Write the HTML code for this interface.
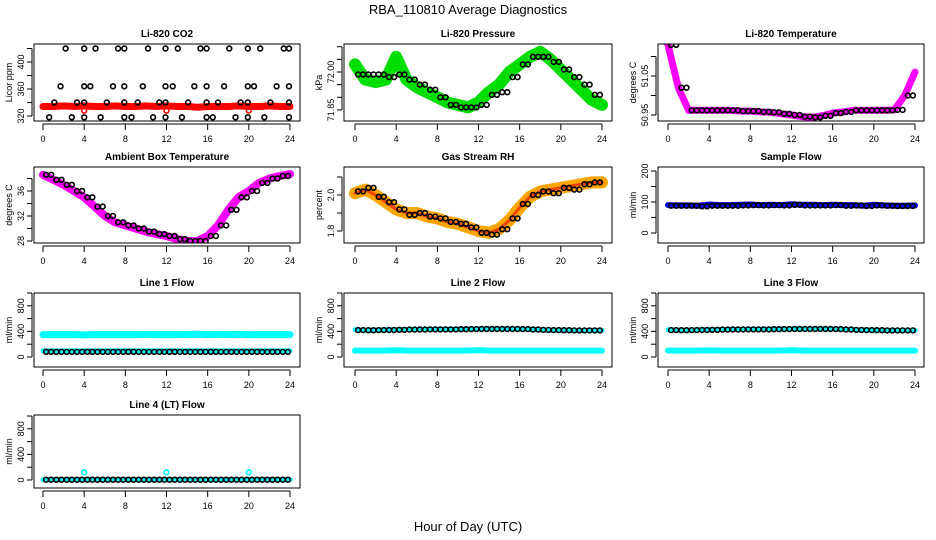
<!DOCTYPE html>
<html><head><meta charset="utf-8">
<style>
body{margin:0;background:#fff;}
svg{display:block;font-family:"Liberation Sans",sans-serif;}
</style></head>
<body>
<svg id="chart" width="936" height="540" viewBox="0 0 936 540" xmlns="http://www.w3.org/2000/svg">
<rect width="936" height="540" fill="#fff"/>
<text x="468" y="14" font-size="13" text-anchor="middle">RBA_110810  Average Diagnostics</text>
<text x="468" y="531" font-size="13" text-anchor="middle">Hour of Day (UTC)</text>
</svg>
<script>
const hours = [0,1,2,3,4,5,6,7,8,9,10,11,12,13,14,15,16,17,18,19,20,21,22,23,24];
const xTicks = [0,4,8,12,16,20,24];

const co2Red = [334,334,335,334,335,334,334,335,334,334,335,334,335,334,334,333,334,334,334,335,334,334,335,334,334];
const co2BlackH = [2.2,4,5.1,7.3,7.9,10.2,11.9,13.1,15.3,15.9,18.1,19.9,21.1,23.4,23.9,1.7,4,4.6,6.8,7.9,9.7,11.9,12.6,14.7,15.9,17.6,19.9,20.5,22.7,23.9,1.1,3.3,4,6.2,7.9,9.2,11.3,11.9,14.1,15.9,17,19.2,19.9,22.1,23.9,0.6,2.8,4,5.6,7.9,8.6,10.7,11.9,13.5,15.9,16.5,18.7,19.9,21.5,23.9];
const co2BlackV = [420,420,420,420,420,420,420,420,420,420,420,420,420,420,420,364,364,364,364,364,364,364,364,364,364,364,364,364,364,364,340,340,340,340,340,340,340,340,340,340,340,340,340,340,340,318,318,318,318,318,318,318,318,318,318,318,318,318,318,318];

const pressGreen = [72.03,71.97,71.96,71.97,72.06,71.97,71.94,71.92,71.9,71.88,71.87,71.86,71.88,71.92,71.95,72.0,72.03,72.06,72.08,72.05,72.01,71.97,71.93,71.89,71.87];
const pressBlack = [71.99,71.99,71.99,71.98,71.99,71.97,71.95,71.93,71.9,71.87,71.86,71.86,71.87,71.91,71.92,71.98,72.03,72.06,72.06,72.04,72.01,71.98,71.95,71.91,71.89];

const tempMag = [51.13,51.02,50.962,50.962,50.962,50.962,50.962,50.96,50.96,50.958,50.957,50.953,50.95,50.946,50.944,50.948,50.955,50.958,50.962,50.962,50.962,50.962,50.963,51.0,51.06];

const ambient = [38.6,37.8,37.0,36.0,35.0,33.5,32.0,31.0,30.5,30.0,29.5,29.1,28.8,28.3,28.0,28.0,28.8,30.5,33.0,35.0,36.0,37.3,38.0,38.4,38.7];

const rhOrange = [2.01,2.03,2.0,1.96,1.92,1.9,1.9,1.88,1.87,1.85,1.84,1.82,1.8,1.79,1.81,1.86,1.93,1.99,2.02,2.03,2.04,2.05,2.06,2.07,2.07];
const rhBlack = [2.02,2.04,1.99,1.96,1.92,1.89,1.9,1.88,1.87,1.85,1.84,1.82,1.79,1.78,1.81,1.87,1.95,2.0,2.02,2.01,2.04,2.03,2.06,2.07,2.06];

const sampleBlue = [90,89,89,88,92,90,90,91,92,90,91,90,93,91,91,90,91,90,90,88,91,89,88,88,89];
const sampleBlack = [88,88,88,86,88,88,88,89,90,89,90,89,91,89,89,89,90,88,89,87,89,88,87,87,88];

const line1CyanHi = [350,350,350,350,345,350,350,350,350,350,352,350,350,350,352,355,350,352,350,355,348,350,350,350,350];
const line1CyanLo = [95,95,95,95,95,95,95,95,95,95,95,95,95,95,95,95,95,95,95,95,95,95,95,95,95];
const line1Black = [82,80,80,80,82,80,80,80,82,80,80,80,82,80,80,80,82,80,80,80,82,80,80,80,80];

const line2Cyan = [425,420,420,425,425,430,432,435,435,435,438,438,440,440,440,440,438,432,425,420,418,415,415,415,415];
const line2CyanLo = [100,100,100,100,105,100,100,100,100,100,100,100,108,100,100,100,100,100,100,100,100,100,100,100,100];
const line2Black = [420,418,420,422,425,428,430,432,432,432,435,436,438,438,438,438,436,430,424,420,418,415,415,415,415];

const line3Cyan = [425,420,420,425,425,430,432,435,435,435,438,438,440,440,440,440,438,432,425,420,418,415,415,415,415];
const line3CyanLo = [100,100,100,100,102,100,100,100,100,100,100,100,105,100,100,100,100,100,100,100,100,100,100,100,100];
const line3Black = [420,418,420,422,425,428,430,432,432,432,435,436,438,438,438,438,436,430,424,420,418,415,415,415,415];

const line4Cyan = [5,5,5,5,5,5,5,5,5,5,5,5,5,5,5,5,5,5,5,5,5,5,5,5,5];
const line4SpikeH = [4,12,20];
const line4SpikeV = [120,120,120];
const line4Black = [5,5,5,5,5,5,5,5,5,5,5,5,5,5,5,5,5,5,5,5,5,5,5,5,5];

const NS = "http://www.w3.org/2000/svg";
const svg = document.getElementById('chart');
const cols = [{l:34,x0:43,x24:290,r:300},{l:344,x0:355,x24:602,r:612},{l:658,x0:668,x24:915,r:924}];
const rows = [{t:44,b:121},{t:167,b:243},{t:293,b:367},{t:415,b:488}];

function mk(tag, attrs, parent){
  const e = document.createElementNS(NS, tag);
  for (const k in attrs) e.setAttribute(k, attrs[k]);
  (parent||svg).appendChild(e);
  return e;
}

const panels = [
 {name:'li820-co2',c:0,r:0,title:'Li-820 CO2',ylab:'Licor ppm',v0:320,y0:116,ppu:54/80,ticks:[320,340,360,380,400,420],labels:[320,360,400],lab:v=>String(v),
  series:[{type:'band',x:hours,y:co2Red,color:'#ff0000',w:7},{type:'pts',x:[4,12,20],y:[328,328,328],color:'#ff0000'},{type:'pts',x:co2BlackH,y:co2BlackV,color:'#000'}]},
 {name:'li820-pressure',c:1,r:0,title:'Li-820 Pressure',ylab:'kPa',v0:72.0,y0:72,ppu:253,ticks:[71.85,71.9,71.95,72.0,72.05,72.1],labels:[71.85,72.0],lab:v=>v.toFixed(2),
  series:[{type:'band',x:hours,y:pressGreen,color:'#00dd00',w:12},{type:'pts',x:hours,y:pressBlack,color:'#000',off:0.3}]},
 {name:'li820-temperature',c:2,r:0,title:'Li-820 Temperature',ylab:'degrees C',v0:50.95,y0:115,ppu:390,ticks:[50.95,51.0,51.05,51.1],labels:[50.95,51.05],lab:v=>v.toFixed(2),
  series:[{type:'band',x:hours,y:tempMag,color:'#ff00ff',w:7},{type:'pts',x:hours,y:tempMag,color:'#000',off:0.3}]},
 {name:'ambient-box-temperature',c:0,r:1,title:'Ambient Box Temperature',ylab:'degrees C',v0:28,y0:241,ppu:6.25,ticks:[28,30,32,34,36,38],labels:[28,32,36],lab:v=>String(v),
  series:[{type:'band',x:hours,y:ambient,color:'#ff00ff',w:8},{type:'pts',x:hours,y:ambient,color:'#000',off:0.3}]},
 {name:'gas-stream-rh',c:1,r:1,title:'Gas Stream RH',ylab:'percent',v0:2.0,y0:195,ppu:180,ticks:[1.8,1.9,2.0,2.1],labels:[1.8,2.0],lab:v=>v.toFixed(1),
  series:[{type:'band',x:hours,y:rhOrange,color:'#ffa500',w:12},{type:'band',x:hours,y:rhOrange,color:'#ee4400',w:3},{type:'pts',x:hours,y:rhBlack,color:'#000',off:0.3}]},
 {name:'sample-flow',c:2,r:1,title:'Sample Flow',ylab:'ml/min',v0:0,y0:233,ppu:0.31,ticks:[0,50,100,150,200],labels:[0,100,200],lab:v=>String(v),
  series:[{type:'band',x:hours,y:sampleBlue,color:'#0000ff',w:6},{type:'pts',x:hours,y:sampleBlack,color:'#000',off:0.3}]},
 {name:'line1-flow',c:0,r:2,title:'Line 1 Flow',ylab:'ml/min',v0:0,y0:357,ppu:0.064,ticks:[0,200,400,600,800,1000],labels:[0,400,800],lab:v=>String(v),
  series:[{type:'band',x:hours,y:line1CyanHi,color:'#00ffff',w:7},{type:'band',x:hours,y:line1CyanLo,color:'#00ffff',w:5},{type:'pts',x:hours,y:line1Black,color:'#000',off:0.3}]},
 {name:'line2-flow',c:1,r:2,title:'Line 2 Flow',ylab:'ml/min',v0:0,y0:357,ppu:0.064,ticks:[0,200,400,600,800,1000],labels:[0,400,800],lab:v=>String(v),
  series:[{type:'band',x:hours,y:line2Cyan,color:'#00ffff',w:5},{type:'band',x:hours,y:line2CyanLo,color:'#00ffff',w:6},{type:'pts',x:hours,y:line2Black,color:'#000',off:0.3}]},
 {name:'line3-flow',c:2,r:2,title:'Line 3 Flow',ylab:'ml/min',v0:0,y0:357,ppu:0.064,ticks:[0,200,400,600,800,1000],labels:[0,400,800],lab:v=>String(v),
  series:[{type:'band',x:hours,y:line3Cyan,color:'#00ffff',w:5},{type:'band',x:hours,y:line3CyanLo,color:'#00ffff',w:6},{type:'pts',x:hours,y:line3Black,color:'#000',off:0.3}]},
 {name:'line4-lt-flow',c:0,r:3,title:'Line 4 (LT) Flow',ylab:'ml/min',v0:0,y0:480,ppu:0.064,ticks:[0,200,400,600,800,1000],labels:[0,400,800],lab:v=>String(v),
  series:[{type:'band',x:hours,y:line4Cyan,color:'#00ffff',w:5},{type:'pts',x:line4SpikeH,y:line4SpikeV,color:'#00ffff'},{type:'pts',x:hours,y:line4Black,color:'#000',off:0.3}]}
];

panels.forEach(p=>{
  const C = cols[p.c], R = rows[p.r];
  const g = mk('g',{});
  
  
  const xs = h => C.x0 + (h/24)*(C.x24-C.x0);
  const ys = v => p.y0 - (v-p.v0)*p.ppu;
  const clipId = 'clip-'+p.name;
  const cp = mk('clipPath',{id:clipId},g);
  mk('rect',{x:C.l,y:R.t,width:C.r-C.l,height:R.b-R.t},cp);
  const plot = mk('g',{'clip-path':'url(#'+clipId+')'},g);
  
  
  p.series.forEach((s,si)=>{
    if (s.type==='band'){
      let d='';
      s.x.forEach((h,i)=>{ d += (i?'L':'M')+xs(h).toFixed(1)+' '+ys(s.y[i]).toFixed(1); });
      const path = mk('path',{d:d,fill:'none',stroke:s.color,'stroke-width':s.w,'stroke-linejoin':'round','stroke-linecap':'round'},plot);
      
      
    } else {
      const off = s.off||0;
      s.x.forEach((h,i)=>{
        const hx = h + off;
        if (hx>24.05) return;
        const c = mk('circle',{cx:xs(hx).toFixed(1),cy:ys(s.y[i]).toFixed(1),r:2.4,fill:'none',stroke:s.color,'stroke-width':1.6},plot);
        
        
        if (off && i<s.x.length-1){
          const hm = h + off + 0.5;
          const vm = s.y[i];
          const c2 = mk('circle',{cx:xs(hm).toFixed(1),cy:ys(vm).toFixed(1),r:2.4,fill:'none',stroke:s.color,'stroke-width':1.6},plot);
          
          
        }
      });
    }
  });
  const box = mk('rect',{x:C.l,y:R.t,width:C.r-C.l,height:R.b-R.t,fill:'none',stroke:'#000','stroke-width':1},g);
  
  
  const t = mk('text',{x:(C.l+C.r)/2,y:R.t-7,'font-size':10,'font-weight':'bold','text-anchor':'middle'},g);
  t.textContent = p.title;
  
  
  // x axis
  const xa = mk('g',{},g);
  
  
  mk('line',{x1:C.x0,x2:C.x24,y1:R.b+3,y2:R.b+3,stroke:'#000'},xa);
  xTicks.forEach(v=>{
    mk('line',{x1:xs(v),x2:xs(v),y1:R.b+3,y2:R.b+9,stroke:'#000'},xa);
    const tl = mk('text',{x:xs(v),y:R.b+21,'font-size':9,'text-anchor':'middle'},xa);
    tl.textContent = v;
    
    
  });
  // y axis
  const ya = mk('g',{},g);
  
  
  const tv = p.ticks.filter(v=>ys(v)>=R.t-1 && ys(v)<=R.b+1);
  mk('line',{x1:C.l-2,x2:C.l-2,y1:ys(tv[0]),y2:ys(tv[tv.length-1]),stroke:'#000'},ya);
  tv.forEach(v=>{ mk('line',{x1:C.l-2,x2:C.l-7,y1:ys(v),y2:ys(v),stroke:'#000'},ya); });
  p.labels.forEach(v=>{
    const yy = ys(v);
    const tl = mk('text',{x:0,y:0,'font-size':9,'text-anchor':'middle',transform:'translate('+(C.l-10)+','+yy.toFixed(1)+') rotate(-90)'},ya);
    tl.textContent = p.lab(v);
    
    
  });
  const yl = mk('text',{x:0,y:0,'font-size':9,'text-anchor':'middle',transform:'translate('+(C.l-22)+','+((R.t+R.b)/2)+') rotate(-90)'},g);
  yl.textContent = p.ylab;
  
  
});
</script>
</body></html>
